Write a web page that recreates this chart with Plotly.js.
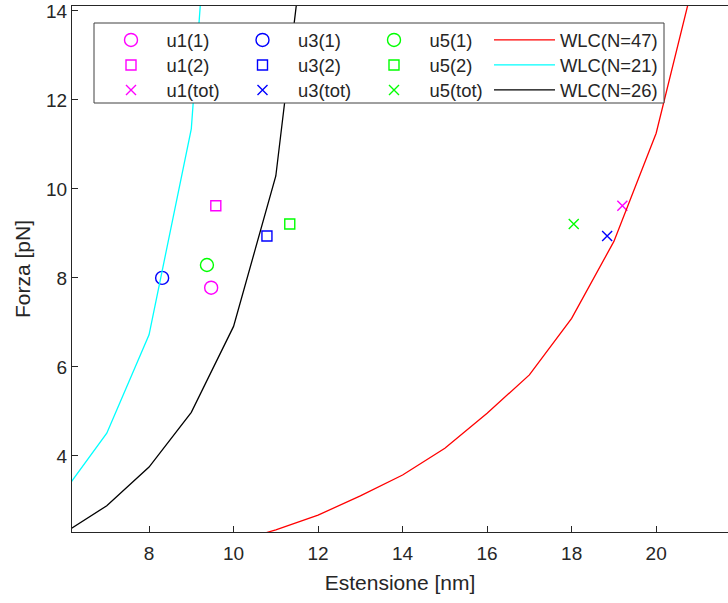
<!DOCTYPE html>
<html>
<head>
<meta charset="utf-8">
<script src="https://cdn.plot.ly/plotly-3.0.1.min.js"></script>
<style>
  html, body { margin: 0; padding: 0; background: #fff; }
  #chart { width: 728px; height: 603px; }
</style>
</head>
<body>
<div id="chart"></div>
<script>
// Unfolding steps: extension [nm] and force [pN] for each domain
const u1Ext   = [9.47, 9.58, 19.2];
const u1Force = [7.78, 9.62, 9.62];
const u3Ext   = [8.31, 10.79, 18.84];
const u3Force = [8.0, 8.94, 8.94];
const u5Ext   = [9.37, 11.33, 18.05];
const u5Force = [8.29, 9.21, 9.21];
const stepLabels = ['(1)', '(2)', '(tot)'];

// Worm-like-chain curves sampled at integer extensions
const wlc47Ext   = [10, 11, 12, 13, 14, 15, 16, 17, 18, 19, 20, 21];
const wlc47Force = [2.05, 2.34, 2.67, 3.10, 3.57, 4.17, 4.96, 5.82, 7.09, 8.82, 11.25, 15.1];
const wlc21Ext   = [6, 7, 8, 9, 10];
const wlc21Force = [3.21, 4.51, 6.72, 11.35, 24.4];
const wlc26Ext   = [6, 7, 8, 9, 10, 11, 12];
const wlc26Force = [2.27, 2.88, 3.75, 4.98, 6.91, 10.29, 18.2];

const xTicks = [8, 10, 12, 14, 16, 18, 20];
const yTicks = [4, 6, 8, 10, 12, 14];

const symbols = ['circle-open', 'square-open', 'x-thin-open'];
const sizes = [13, 10, 10];

// Plot area in pixels (for placing the legend grid)
const W = 728, H = 603;
const M = { l: 72, r: 0, t: 6, b: 71 };
const plotW = W - M.l - M.r, plotH = H - M.t - M.b;
const px2x = px => (px - M.l) / plotW;
const px2y = py => (H - M.b - py) / plotH;

// Legend grid: 3 rows x 4 columns (u1, u3, u5, WLC)
const legendColPx = [95.5, 227, 358.5, 489];
const legendRowPx = [40, 65, 90];
const legendId = (row, col) => {
  const k = row * 4 + col + 1;
  return k === 1 ? 'legend' : 'legend' + k;
};

function stepTraces(name, ext, force, color, col) {
  return ext.map((x, i) => ({
    type: 'scatter', mode: 'markers',
    x: [x], y: [force[i]],
    name: name + stepLabels[i],
    legend: legendId(i, col),
    marker: { symbol: symbols[i], size: sizes[i], color: color,
              line: { color: color, width: 1.4 } }
  }));
}

function wlcTrace(n, ext, force, color, row) {
  return {
    type: 'scatter', mode: 'lines',
    x: ext, y: force,
    name: 'WLC(N=' + n + ')',
    legend: legendId(row, 3),
    line: { color: color, width: 1.3 }
  };
}

const traces = [
  ...stepTraces('u1', u1Ext, u1Force, '#ff00ff', 0),
  ...stepTraces('u3', u3Ext, u3Force, '#0000ff', 1),
  ...stepTraces('u5', u5Ext, u5Force, '#00ff00', 2),
  wlcTrace(47, wlc47Ext, wlc47Force, '#ff0000', 0),
  wlcTrace(21, wlc21Ext, wlc21Force, '#00ffff', 1),
  wlcTrace(26, wlc26Ext, wlc26Force, '#000000', 2)
];

const axisColor = '#262626';
const font = 'Liberation Sans, Arial, Helvetica, sans-serif';

const layout = {
  width: W, height: H,
  margin: M,
  paper_bgcolor: '#ffffff', plot_bgcolor: '#ffffff',
  font: { family: font, color: axisColor, size: 19 },
  showlegend: true,
  xaxis: {
    range: [6.177, 21.70],
    tickvals: xTicks, ticktext: xTicks.map(String),
    ticks: 'inside', ticklen: 6, tickwidth: 1, tickcolor: axisColor,
    ticklabelstandoff: 4,
    showline: true, linecolor: axisColor, linewidth: 1, mirror: true,
    showgrid: false, zeroline: false,
    tickfont: { size: 19, color: axisColor },
    title: { text: 'Estensione [nm]', font: { size: 21, color: axisColor }, standoff: 12 }
  },
  yaxis: {
    range: [2.29, 14.11],
    tickvals: yTicks, ticktext: yTicks.map(String),
    ticks: 'inside', ticklen: 6, tickwidth: 1, tickcolor: axisColor,
    showline: true, linecolor: axisColor, linewidth: 1, mirror: false,
    showgrid: false, zeroline: false,
    tickfont: { size: 19, color: axisColor },
    title: { text: 'Forza [pN]', font: { size: 21, color: axisColor }, standoff: 9 }
  },
  // White box framing the legend grid
  shapes: [{
    type: 'rect', xref: 'paper', yref: 'paper', layer: 'above',
    x0: px2x(94), x1: px2x(664), y0: px2y(103), y1: px2y(23),
    fillcolor: '#ffffff', line: { color: '#404040', width: 1 }
  }]
};

for (let r = 0; r < 3; r++) {
  for (let c = 0; c < 4; c++) {
    layout[legendId(r, c)] = {
      x: px2x(legendColPx[c]), xanchor: 'left',
      y: px2y(legendRowPx[r]), yanchor: 'middle',
      bgcolor: 'rgba(0,0,0,0)', borderwidth: 0,
      font: { size: 18.4, color: axisColor, family: font },
      itemwidth: 61
    };
  }
}

Plotly.newPlot('chart', traces, layout, { displayModeBar: false, staticPlot: true });
</script>
</body>
</html>
